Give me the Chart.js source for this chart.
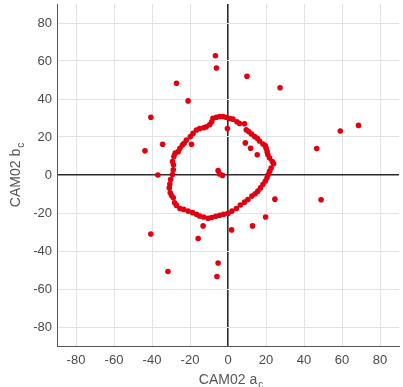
<!DOCTYPE html>
<html lang="en">
<head>
    <meta charset="UTF-8">
    <title>CAM02 a_c / b_c</title>
    <script src="https://cdn.jsdelivr.net/npm/chart.js"></script>
    <style>
        body { margin: 0; background: #fff; }
    </style>
</head>
<body>
    <canvas id="camChart" width="403" height="387"></canvas>

    <script>
        // tick labels for both axes
        const tickValues = [-80, -60, -40, -20, 0, 20, 40, 60, 80];

        // points that sit on the ring round the origin
        const ringA = [-7.9, -6.1, -4.4, -2.6, -0.9, 0.9, 2.6, 4.7, 6.1, 8.7, 9.6, 11.0, 12.4, 14.0, 15.4, 16.6, 18.4, 19.6, 20.1, 20.6,
            21.0, 21.9, 23.3, 24.0, 22.7, 21.9, 21.2, 20.5, 19.6, 18.4, 17.1, 15.7, 14.3, 12.6, 10.5, 8.7, 6.5, 4.4, 2.1, 0.0,
            -2.3, -4.4, -6.5, -8.6, -10.5, -12.8, -14.9, -16.6, -18.7, -21.0, -23.3, -25.3, -27.1, -28.1, -28.8, -29.7, -30.4, -30.9, -30.6, -30.2,
            -29.2, -28.8, -28.7, -29.2, -28.5, -27.8, -26.2, -25.3, -24.0, -21.9, -19.8, -18.4, -16.6, -14.9, -12.8, -11.4, -9.6, -8.6];
        const ringB = [29.9, 30.4, 30.8, 30.8, 30.3, 29.7, 29.4, 28.0, 27.1, 27.0, 23.8, 22.8, 21.6, 20.2, 19.3, 17.9, 16.3, 15.5, 14.1, 12.3,
            10.6, 8.9, 7.1, 5.9, 3.7, 1.9, 0.2, -1.6, -3.3, -5.0, -6.8, -8.5, -9.9, -11.1, -12.9, -14.3, -15.8, -17.6, -19.0, -20.2,
            -20.7, -21.2, -21.7, -22.4, -22.8, -22.1, -21.6, -20.7, -19.8, -19.0, -18.1, -17.6, -16.0, -14.6, -12.0, -10.8, -9.4, -6.8, -4.7, -2.4,
            0.2, 2.8, 5.4, 7.1, 9.7, 11.5, 12.3, 14.1, 15.8, 18.4, 20.2, 21.9, 23.7, 24.5, 24.9, 25.4, 26.6, 28.0];

        // scattered points inside and outside the ring
        const otherA = [-6.6, -6.1, 10.0, 27.4, -27.1, -21.0, -40.6, 59.1, 68.7, -34.4, -43.7, 46.7, -36.9, 24.7, 49.0, 19.8,
            -13.1, 1.9, 12.9, -15.7, -40.6, -5.2, -5.8, -31.6,
            -0.3, 9.1, 11.9, 15.4, -23.1, -19.2, -5.2, -4.4, -2.9];
        const otherB = [62.8, 56.3, 52.0, 45.9, 48.3, 39.0, 30.4, 23.1, 26.1, 16.2, 12.7, 13.9, 0.0, -12.7, -13.0, -22.1,
            -26.8, -28.9, -26.8, -33.4, -31.1, -46.3, -53.4, -50.8,
            24.5, 16.9, 14.1, 10.6, 16.7, 16.2, 2.3, 0.5, -0.2];

        const toPoints = (xs, ys) => xs.map((x, i) => ({ x: x, y: ys[i] }));

        const tickFont = { family: 'Liberation Sans, Arial, sans-serif', size: 13 };
        const tickColor = '#4a4a4a';
        const gridColor = ctx => ctx.tick && ctx.tick.value === 0 ? '#2b2b2b' : '#e3e3e3';
        const gridWidth = ctx => ctx.tick && ctx.tick.value === 0 ? 1.6 : 1;
        const setTicks = scale => { scale.ticks = tickValues.map(v => ({ value: v })); };

        // axis titles with a subscript c, drawn by hand
        const axisTitles = {
            id: 'axisTitles',
            afterDraw(chart) {
                const c = chart.ctx;
                const area = chart.chartArea;
                c.save();
                c.fillStyle = '#555';
                c.textBaseline = 'alphabetic';

                // x title
                c.font = '14px Liberation Sans, Arial, sans-serif';
                const main = 'CAM02 a';
                const w = c.measureText(main).width;
                const cx = chart.scales.x.getPixelForValue(0);
                const x0 = cx - w / 2;
                c.textAlign = 'left';
                c.fillText(main, x0, 384);
                c.font = '10px Liberation Sans, Arial, sans-serif';
                c.fillText('c', x0 + w + 1, 388);

                // y title, rotated
                c.translate(20, (area.top + area.bottom) / 2);
                c.rotate(-Math.PI / 2);
                c.font = '14px Liberation Sans, Arial, sans-serif';
                const mainY = 'CAM02 b';
                const wy = c.measureText(mainY).width;
                c.fillText(mainY, -wy / 2 - 3, 0);
                c.font = '10px Liberation Sans, Arial, sans-serif';
                c.fillText('c', wy / 2 - 2, 4);
                c.restore();
            }
        };

        const ctx = document.getElementById('camChart').getContext('2d');

        const camChart = new Chart(ctx, {
            type: 'scatter',
            data: {
                datasets: [{
                    label: 'ring',
                    data: toPoints(ringA, ringB),
                    backgroundColor: 'rgb(225, 0, 16)',
                    borderWidth: 0,
                    pointRadius: 2.8
                }, {
                    label: 'other',
                    data: toPoints(otherA, otherB),
                    backgroundColor: 'rgb(225, 0, 16)',
                    borderWidth: 0,
                    pointRadius: 2.8
                }]
            },
            options: {
                responsive: false,
                animation: false,
                devicePixelRatio: 1,
                layout: { padding: { top: 1, right: 3, left: 0, bottom: 0 } },
                plugins: {
                    legend: { display: false },
                    tooltip: { enabled: false }
                },
                scales: {
                    x: {
                        type: 'linear',
                        min: -90,
                        max: 90,
                        afterBuildTicks: setTicks,
                        afterFit: scale => {
                            scale.height = 41;
                            scale.paddingLeft = 0;
                            scale.paddingRight = 0;
                        },
                        grid: { color: gridColor, lineWidth: gridWidth, drawTicks: false },
                        border: { display: true, color: '#555', width: 1 },
                        ticks: { font: tickFont, color: tickColor, padding: 7, maxRotation: 0 }
                    },
                    y: {
                        type: 'linear',
                        min: -90,
                        max: 90,
                        afterBuildTicks: setTicks,
                        afterFit: scale => {
                            scale.width = 57;
                            scale.paddingTop = 0;
                            scale.paddingBottom = 0;
                        },
                        grid: { color: gridColor, lineWidth: gridWidth, drawTicks: false },
                        border: { display: true, color: '#555', width: 1 },
                        ticks: { font: tickFont, color: tickColor, padding: 5 }
                    }
                }
            },
            plugins: [axisTitles]
        });
    </script>
</body>
</html>
